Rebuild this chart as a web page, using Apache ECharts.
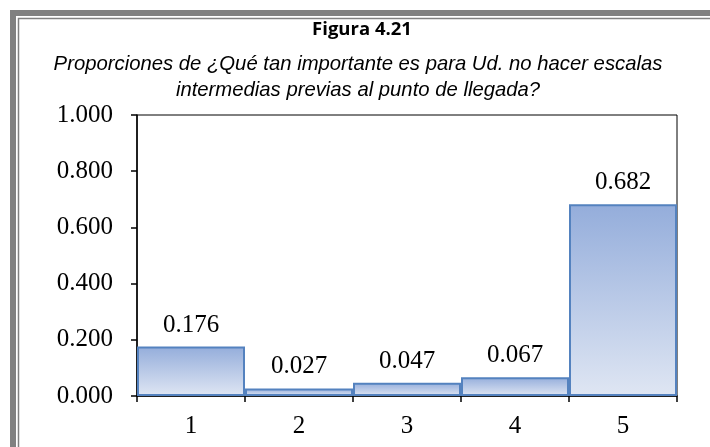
<!DOCTYPE html>
<html>
<head>
<meta charset="utf-8">
<script src="https://cdn.jsdelivr.net/npm/echarts@6/dist/echarts.min.js"></script>
<style>
  html, body { margin: 0; padding: 0; background: #fff; }
  #main { width: 710px; height: 447px; }
</style>
</head>
<body>
<div id="main"></div>
<script>
// datos de la figura
var categorias = ['1', '2', '3', '4', '5'];
var proporciones = [0.176, 0.027, 0.047, 0.067, 0.682];
var ticksY = [0, 0.2, 0.4, 0.6, 0.8, 1.0];

var myChart = echarts.init(document.getElementById('main'));

myChart.setOption({
    animation: false,
    backgroundColor: '#fff',
    title: [
        {
            text: 'Figura 4.21',
            left: 357,
            top: 15,
            textAlign: 'center',
            textStyle: { fontFamily: 'Open Sans', fontWeight: 'bold', fontSize: 18.5, color: '#000' }
        },
        {
            text: 'Proporciones de ¿Qué tan importante es para Ud. no hacer escalas\nintermedias previas al punto de llegada?',
            left: 353,
            top: 46,
            textAlign: 'center',
            textStyle: {
                fontFamily: 'Liberation Sans', fontStyle: 'italic', fontWeight: 'normal',
                fontSize: 20.3, lineHeight: 26, color: '#000'
            }
        }
    ],
    graphic: [
        // marco gris doble
        { type: 'rect', shape: { x: 13, y: 13, width: 800, height: 800 },
          style: { fill: null, stroke: '#808080', lineWidth: 6 } },
        { type: 'rect', shape: { x: 18.5, y: 18.5, width: 800, height: 800 },
          style: { fill: null, stroke: '#808080', lineWidth: 1.5 } }
    ],
    grid: {
        left: 137,
        right: 33,
        top: 115,
        bottom: 51,
        show: true,
        borderColor: '#000',
        borderWidth: 1
    },
    xAxis: {
        type: 'category',
        data: categorias,
        axisLine: { lineStyle: { color: '#000', width: 1.5 } },
        axisTick: { show: true, length: 6, lineStyle: { color: '#000', width: 1.5 } },
        axisLabel: { color: '#000', fontFamily: 'Liberation Serif', fontSize: 25, margin: 18 }
    },
    yAxis: {
        type: 'value',
        min: ticksY[0],
        max: ticksY[ticksY.length - 1],
        interval: 0.2,
        splitLine: { show: false },
        axisLine: { show: true, lineStyle: { color: '#000', width: 1.5 } },
        axisTick: { show: true, length: 6, lineStyle: { color: '#000', width: 1.5 } },
        axisLabel: {
            color: '#000', fontFamily: 'Liberation Serif', fontSize: 25, margin: 24,
            formatter: function (v) { return v.toFixed(3); }
        }
    },
    series: [
        {
            type: 'bar',
            data: proporciones,
            barCategoryGap: '0%',
            itemStyle: {
                color: new echarts.graphic.LinearGradient(0, 0, 0, 1, [
                    { offset: 0, color: '#94addb' },
                    { offset: 1, color: '#dfe6f3' }
                ]),
                borderColor: '#5482bf',
                borderWidth: 2
            },
            label: {
                show: true,
                position: 'top',
                distance: 9,
                color: '#000',
                fontFamily: 'Liberation Serif',
                fontSize: 25,
                formatter: function (p) { return p.value.toFixed(3); }
            }
        }
    ]
});
</script>
</body>
</html>
